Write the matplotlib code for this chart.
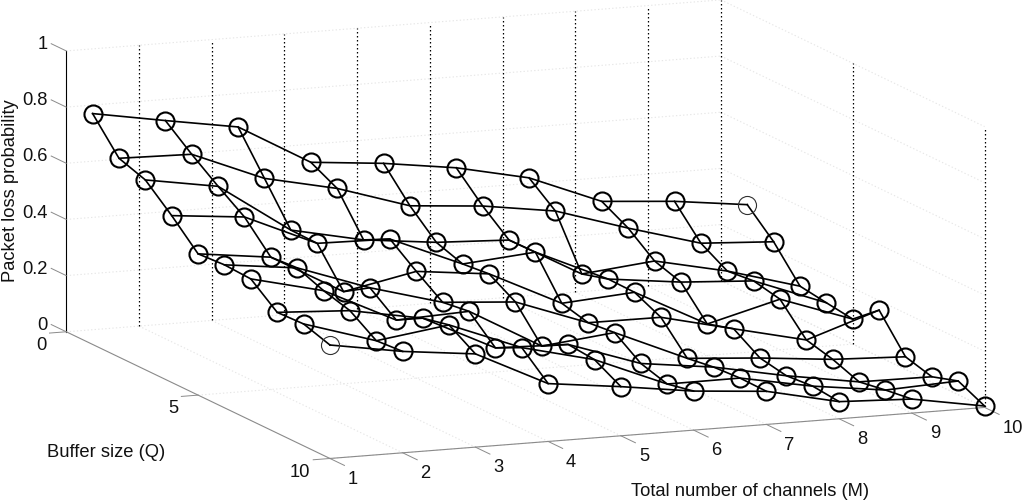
"""
packet loss probability against buffer size and number of channels
"""
import matplotlib
matplotlib.use("Agg")
import matplotlib.pyplot as plt
from mpl_toolkits.mplot3d import proj3d
import numpy as np

plt.rcParams['font.family'] = ['Liberation Sans', 'DejaVu Sans']

channels = [1, 2, 3, 4, 5, 6, 7, 8, 9, 10]
buffers = [1, 2, 3, 4, 5, 6, 7, 8, 9, 10]

#one row per buffer size, one value per channel count
loss_q1 = [.822, .777, .734, .588, .564, .528, .472, .368, .348, .316]
loss_q2 = [.708, .702, .596, .540, .458, .437, .399, .318, .244, .229]
loss_q3 = [.676, .633, .457, .402, .373, .361, .220, .246, .190, .116]
loss_q4 = [.594, .569, .455, .450, .341, .363, .247, .216, .200, .102]
loss_q5 = [.503, .471, .328, .380, .351, .226, .245, .112, .180, .089]
loss_q6 = [.509, .478, .387, .315, .296, .202, .201, .140, .080, .166]
loss_q7 = [.504, .442, .317, .328, .184, .212, .100, .081, .056, .045]
loss_q8 = [.430, .416, .369, .243, .235, .147, .114, .063, .021, .019]
loss_q9 = [.434, .354, .390, .289, .226, .119, .120, .071, .037, .049]
loss_q10 = [.404, .361, .332, .206, .175, .139, .118, .061, .050, .005]

z_ticks = [0, 0.2, 0.4, 0.6, 0.8, 1]
z_labels = ['0', '0.2', '0.4', '0.6', '0.8', '1']
q_ticks = [0, 5, 10]
m_ticks = channels

GRID = '#e6e6e6'
AXIS = '#8a8a8a'
DOTS = (0, (1.2, 2.0))
FONT = 13.2


def put_text(ax, x, y, z, s, ha):
    #Text3D reports a wrong extent, so project it and place it as plain text
    px, py, _ = proj3d.proj_transform(x, y, z, ax.get_proj())
    ax.text2D(px, py, s, transform=ax.transData, ha=ha, va='center',
              fontsize=FONT, color='#111111')


def draw_grid(ax):
    m_lo, m_hi = m_ticks[0], m_ticks[-1]
    q_lo, q_hi = q_ticks[0], q_ticks[-1]
    for z in z_ticks:
        ax.plot([m_lo, m_hi], [q_lo, q_lo], [z, z], color=GRID, lw=0.8, ls=DOTS)
        ax.plot([m_hi, m_hi], [q_lo, q_hi], [z, z], color=GRID, lw=0.8, ls=DOTS)
    for m in m_ticks[1:]:
        ax.plot([m, m], [q_lo, q_hi], [0, 0], color=GRID, lw=0.8, ls=DOTS)
        ax.plot([m, m], [q_lo, q_lo], [0, 1], color='k', lw=0.9, ls=DOTS)
    for q in q_ticks[1:]:
        ax.plot([m_lo, m_hi], [q, q], [0, 0], color=GRID, lw=0.8, ls=DOTS)
        ax.plot([m_hi, m_hi], [q, q], [0, 1], color='k', lw=0.9, ls=DOTS)


def draw_axes(ax):
    m_lo, m_hi = m_ticks[0], m_ticks[-1]
    q_lo, q_hi = q_ticks[0], q_ticks[-1]
    ax.plot([m_lo, m_lo], [q_lo, q_lo], [0, 1], color='k', lw=0.8)
    ax.plot([m_lo, m_lo], [q_lo, q_hi], [0, 0], color=AXIS, lw=0.8)
    ax.plot([m_lo, m_hi], [q_hi, q_hi], [0, 0], color=AXIS, lw=0.8)

    for z, lab in zip(z_ticks, z_labels):
        ax.plot([m_lo, m_lo], [q_lo, q_lo - 0.57], [z, z], color=AXIS, lw=0.7)
        put_text(ax, m_lo, q_lo - 0.7, z - 0.009, lab, 'right')
    for q in q_ticks:
        ax.plot([m_lo, m_lo - 0.23], [q, q], [0, 0], color=AXIS, lw=0.7)
        put_text(ax, m_lo - 0.27, q, -0.043, str(q), 'right')
    for m in m_ticks:
        ax.plot([m, m], [q_hi, q_hi + 0.55], [0, 0], color=AXIS, lw=0.7)
        put_text(ax, m, q_hi + 0.68, -0.043, str(m), 'left')


def draw_mesh(ax):
    loss = np.array([loss_q1, loss_q2, loss_q3, loss_q4, loss_q5,
                     loss_q6, loss_q7, loss_q8, loss_q9, loss_q10])
    mm, qq = np.meshgrid(channels, buffers)
    for i in range(len(buffers)):
        ax.plot(mm[i], qq[i], loss[i], color='k', lw=1.2, zorder=3)
    for j in range(len(channels)):
        ax.plot(mm[:, j], qq[:, j], loss[:, j], color='k', lw=1.2, zorder=3)

    #the two far corners only get one pass of the mesh, so they look thinner
    thin = np.zeros(loss.shape, dtype=bool)
    thin[0, -1] = True
    thin[-1, 0] = True
    ax.plot(mm[~thin], qq[~thin], loss[~thin], ls='none', marker='o', ms=13,
            mfc='none', mec='k', mew=1.5, zorder=4)
    ax.plot(mm[thin], qq[thin], loss[thin], ls='none', marker='o', ms=13,
            mfc='none', mec='#303030', mew=0.8, zorder=4)


def main():
    fig = plt.figure(figsize=(10.22, 5.01), dpi=100, facecolor='white')
    size = 1008
    ax = fig.add_axes([7.8 / 1022, -245.8 / 501, size / 1022, size / 501],
                      projection='3d')
    ax.set_proj_type('ortho')
    ax.view_init(elev=11.16, azim=-111.94)
    ax.set_box_aspect((705.4, 705.4, 286.1))
    ax.set_xlim(1, 10, view_margin=0)
    ax.set_ylim(10, 0, view_margin=0)
    ax.set_zlim(0, 1, view_margin=0)
    ax.set_axis_off()
    ax.patch.set_alpha(0)

    draw_grid(ax)
    draw_axes(ax)
    draw_mesh(ax)

    fig.text(11 / 1022, 1 - 191 / 501, 'Packet loss probability', rotation=90,
             ha='center', va='center', fontsize=FONT, color='#111111')
    fig.text(106 / 1022, 1 - 452.5 / 501, 'Buffer size (Q)',
             ha='center', va='center', fontsize=FONT, color='#111111')
    fig.text(750 / 1022, 1 - 492 / 501, 'Total number of channels (M)',
             ha='center', va='center', fontsize=FONT, color='#111111')

    fig.savefig('out.png', dpi=100)


if __name__ == "__main__":
    main()
